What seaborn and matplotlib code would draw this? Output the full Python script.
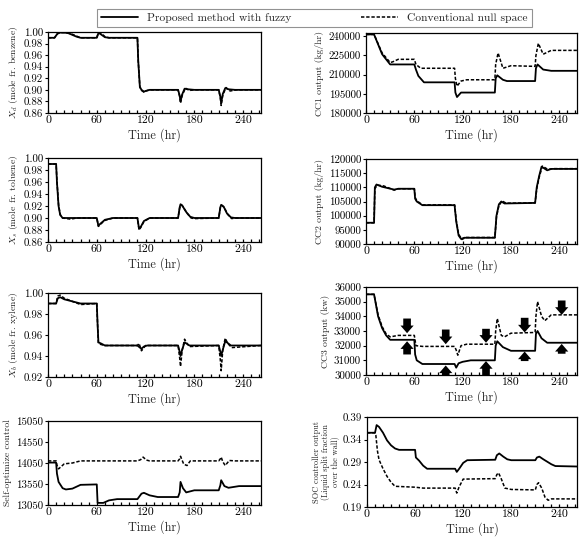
import matplotlib
matplotlib.use("Agg")
import matplotlib.pyplot as plt
import seaborn as sns
from matplotlib.lines import Line2D
from matplotlib.ticker import MultipleLocator

sns.set_theme(style="white")
plt.rcParams['font.family'] = ['cmr10', 'DejaVu Serif']
plt.rcParams['mathtext.fontset'] = 'cm'
plt.rcParams['axes.unicode_minus'] = False

# ---------------- data ----------------
# Panel: X_d benzene
t_xd_fz = [0, 8, 12, 15, 20, 25, 30, 35, 40, 60, 62, 64, 67, 70, 75, 110, 111, 113, 115, 118, 120, 125, 160, 162, 163, 165, 168, 172, 180, 210, 212, 213, 215, 218, 222, 230, 262]
xd_fz = [0.990, 0.990, 0.998, 0.999, 0.999, 0.998, 0.995, 0.992, 0.990, 0.990, 0.998, 0.997, 0.994, 0.991, 0.990, 0.990, 0.950, 0.905, 0.900, 0.897, 0.898, 0.900, 0.900, 0.890, 0.880, 0.892, 0.902, 0.901, 0.900, 0.900, 0.888, 0.877, 0.893, 0.903, 0.901, 0.900, 0.900]
t_xd_cn = [0, 8, 12, 15, 20, 25, 30, 35, 40, 60, 62, 64, 67, 70, 75, 110, 111, 113, 115, 118, 120, 125, 160, 162, 163, 165, 169, 174, 180, 210, 212, 213, 215, 219, 224, 232, 262]
xd_cn = [0.990, 0.990, 0.997, 0.999, 0.999, 0.998, 0.996, 0.993, 0.990, 0.990, 0.999, 0.998, 0.996, 0.992, 0.990, 0.990, 0.950, 0.905, 0.899, 0.896, 0.898, 0.900, 0.900, 0.888, 0.877, 0.890, 0.903, 0.899, 0.900, 0.900, 0.886, 0.873, 0.891, 0.904, 0.898, 0.900, 0.900]

# Panel: X_s toluene
t_xs_fz = [0, 10, 11, 13, 15, 18, 60, 62, 64, 70, 80, 110, 112, 114, 118, 125, 160, 162, 163, 165, 170, 175, 180, 210, 212, 213, 216, 220, 225, 230, 262]
xs_fz = [0.990, 0.990, 0.960, 0.920, 0.905, 0.900, 0.900, 0.887, 0.890, 0.897, 0.900, 0.900, 0.882, 0.885, 0.895, 0.900, 0.900, 0.918, 0.923, 0.921, 0.910, 0.902, 0.900, 0.900, 0.918, 0.922, 0.919, 0.908, 0.901, 0.900, 0.900]
t_xs_cn = [0, 10, 11, 13, 15, 18, 28, 35, 60, 62, 64, 70, 80, 110, 112, 114, 118, 125, 160, 162, 164, 166, 171, 176, 180, 210, 212, 214, 217, 221, 226, 230, 262]
xs_cn = [0.990, 0.990, 0.962, 0.922, 0.906, 0.900, 0.898, 0.900, 0.900, 0.886, 0.889, 0.896, 0.900, 0.900, 0.880, 0.884, 0.894, 0.900, 0.900, 0.917, 0.922, 0.919, 0.908, 0.900, 0.899, 0.900, 0.917, 0.921, 0.917, 0.906, 0.899, 0.900, 0.900]

# Panel: X_b xylene
t_xb_fz = [0, 10, 12, 15, 20, 30, 40, 60, 61, 62, 65, 70, 110, 113, 115, 118, 122, 160, 162, 163, 165, 168, 170, 174, 210, 212, 213, 215, 218, 220, 225, 262]
xb_fz = [0.990, 0.990, 0.995, 0.996, 0.994, 0.992, 0.990, 0.990, 0.970, 0.953, 0.952, 0.950, 0.950, 0.948, 0.947, 0.949, 0.950, 0.950, 0.944, 0.940, 0.946, 0.953, 0.952, 0.950, 0.950, 0.944, 0.940, 0.946, 0.954, 0.953, 0.950, 0.950]
t_xb_cn = [0, 10, 12, 15, 20, 30, 40, 60, 61, 62, 65, 70, 110, 112, 115, 120, 160, 162, 163, 165, 168, 170, 174, 210, 212, 213, 215, 218, 221, 226, 262]
xb_cn = [0.990, 0.990, 0.997, 0.998, 0.995, 0.992, 0.989, 0.990, 0.970, 0.952, 0.951, 0.950, 0.950, 0.952, 0.945, 0.950, 0.950, 0.938, 0.930, 0.945, 0.956, 0.953, 0.949, 0.950, 0.936, 0.926, 0.946, 0.957, 0.952, 0.948, 0.950]

# Panel: self-optimize control
t_so_fz = [0, 10, 11, 13, 18, 22, 30, 40, 60, 61, 68, 75, 85, 110, 115, 118, 125, 135, 160, 162, 163, 166, 170, 180, 210, 212, 213, 217, 222, 235, 262]
so_fz = [14060, 14060, 13800, 13600, 13450, 13420, 13440, 13530, 13540, 13100, 13100, 13160, 13190, 13190, 13320, 13340, 13280, 13240, 13240, 13350, 13600, 13450, 13350, 13400, 13400, 13520, 13640, 13500, 13460, 13500, 13500]
t_so_cn = [0, 10, 11, 13, 20, 30, 40, 110, 114, 117, 121, 125, 160, 162, 163, 167, 171, 175, 210, 212, 213, 215, 218, 223, 230, 262]
so_cn = [14100, 14100, 14000, 13910, 14030, 14050, 14100, 14100, 14130, 14190, 14120, 14100, 14100, 14150, 14210, 14020, 13990, 14100, 14100, 14150, 14190, 14080, 13990, 14110, 14100, 14100]

# Panel: CC1 output
t_c1_fz = [0, 10, 20, 30, 60, 62, 65, 72, 110, 111, 113, 118, 160, 161, 163, 170, 175, 210, 211, 213, 220, 230, 262]
c1_fz = [241500, 241500, 226000, 218000, 218000, 214000, 209000, 204000, 204000, 196000, 192500, 196000, 196000, 207000, 209500, 206000, 205000, 205000, 215000, 218000, 214000, 213000, 213000]
t_c1_cn = [0, 10, 20, 30, 33, 40, 60, 62, 68, 110, 111, 113, 118, 125, 160, 161, 164, 170, 180, 210, 211, 214, 220, 230, 262]
c1_cn = [241500, 241500, 227000, 219500, 220000, 222000, 222000, 218000, 215000, 215000, 207000, 201000, 205000, 206000, 206000, 218000, 227000, 215000, 217000, 216500, 225000, 234500, 226000, 229000, 229000]

# Panel: CC2 output
t_c2_fz = [0, 10, 11, 13, 20, 35, 40, 60, 61, 63, 70, 110, 112, 115, 118, 122, 160, 162, 165, 168, 172, 210, 212, 215, 218, 225, 230, 262]
c2_fz = [97500, 97500, 110000, 111000, 110200, 109200, 109500, 109500, 106000, 105000, 103700, 103700, 98000, 93000, 91800, 92200, 92200, 100000, 104000, 105000, 104300, 104500, 110000, 114000, 117300, 116000, 116500, 116500]
t_c2_cn = [0, 10, 11, 14, 22, 35, 40, 60, 61, 63, 70, 110, 112, 115, 119, 124, 160, 162, 165, 169, 174, 210, 212, 215, 219, 226, 232, 262]
c2_cn = [97500, 97500, 109500, 110800, 110500, 109000, 109500, 109500, 106500, 105300, 103800, 103800, 98500, 93500, 91600, 92300, 92300, 99500, 103500, 105200, 104400, 104500, 109500, 113500, 117500, 116300, 116600, 116600]

# Panel: CC3 output
t_c3_fz = [0, 10, 15, 20, 25, 30, 60, 61, 63, 70, 110, 112, 115, 120, 130, 160, 161, 163, 170, 180, 210, 211, 213, 218, 225, 262]
c3_fz = [35500, 35500, 34000, 33200, 32700, 32400, 32400, 31400, 31000, 30750, 30750, 30500, 30800, 30900, 31000, 31000, 32000, 32300, 31900, 31650, 31650, 32800, 33000, 32500, 32200, 32200]
t_c3_cn = [0, 10, 15, 20, 25, 30, 40, 60, 62, 70, 110, 112, 114, 118, 125, 160, 161, 163, 168, 172, 180, 210, 211, 213, 218, 222, 230, 262]
c3_cn = [35500, 35500, 34100, 33300, 32800, 32600, 32700, 32700, 32000, 31950, 31950, 31700, 31350, 32000, 32100, 32100, 33000, 33850, 32700, 32600, 32850, 32900, 34000, 35000, 34000, 33700, 34100, 34100]
# CC3 arrows (time, base, tip)
arr_dn_t = [51, 99, 149, 197, 243]
arr_dn_base = [33850, 33100, 33150, 33900, 35080]
arr_dn_tip = [32850, 32100, 32200, 32900, 34100]
arr_up_t = [51, 99, 149, 197, 243]
arr_up_base = [31400, 30000, 30000, 30950, 31450]
arr_up_tip = [32300, 30650, 30950, 31600, 32120]

# Panel: SOC controller output
t_sc_fz = [0, 10, 12, 15, 20, 25, 30, 35, 40, 60, 61, 65, 70, 75, 110, 112, 115, 120, 125, 160, 162, 165, 170, 175, 180, 210, 212, 215, 220, 230, 235, 262]
sc_fz = [0.355, 0.355, 0.372, 0.368, 0.355, 0.338, 0.327, 0.320, 0.317, 0.317, 0.300, 0.293, 0.282, 0.275, 0.275, 0.268, 0.275, 0.288, 0.294, 0.295, 0.305, 0.309, 0.302, 0.296, 0.294, 0.294, 0.300, 0.302, 0.296, 0.285, 0.281, 0.280]
t_sc_cn = [0, 10, 11, 13, 15, 20, 25, 30, 35, 60, 70, 110, 112, 115, 120, 160, 162, 164, 167, 172, 180, 210, 212, 214, 218, 222, 226, 230, 262]
sc_cn = [0.355, 0.355, 0.350, 0.315, 0.295, 0.275, 0.258, 0.245, 0.236, 0.234, 0.232, 0.232, 0.221, 0.235, 0.252, 0.253, 0.262, 0.266, 0.255, 0.232, 0.229, 0.228, 0.240, 0.244, 0.232, 0.212, 0.205, 0.208, 0.208]

labels_legend = ["Proposed method with fuzzy", "Conventional null space"]

# ---------------- layout ----------------
W, H = 580, 537
fig = plt.figure(figsize=(W / 100, H / 100), dpi=100)


def box(l, r, t, b):
    return [l / W, 1 - b / H, (r - l) / W, (b - t) / H]


panels = [
    dict(pos=box(48, 261, 32, 113), t=(t_xd_fz, t_xd_cn), y=(xd_fz, xd_cn),
         ylim=(0.86, 1.00), yt=[0.86, 0.88, 0.90, 0.92, 0.94, 0.96, 0.98, 1.00],
         fmt="{:.2f}", ylabel=r"$X_d$ (mole fr. benzene)", yfs=7),
    dict(pos=box(48, 261, 158, 242), t=(t_xs_fz, t_xs_cn), y=(xs_fz, xs_cn),
         ylim=(0.86, 1.00), yt=[0.86, 0.88, 0.90, 0.92, 0.94, 0.96, 0.98, 1.00],
         fmt="{:.2f}", ylabel=r"$X_s$ (mole fr. toluene)", yfs=7),
    dict(pos=box(48, 261, 293, 377), t=(t_xb_fz, t_xb_cn), y=(xb_fz, xb_cn),
         ylim=(0.92, 1.00), yt=[0.92, 0.94, 0.96, 0.98, 1.00],
         fmt="{:.2f}", ylabel=r"$X_b$ (mole fr. xylene)", yfs=7),
    dict(pos=box(48, 261, 421, 505), t=(t_so_fz, t_so_cn), y=(so_fz, so_cn),
         ylim=(13050, 15050), yt=[13050, 13550, 14050, 14550, 15050],
         fmt="{:.0f}", ylabel="Self-optimize control", yfs=7),
    dict(pos=box(366, 577, 33, 113), t=(t_c1_fz, t_c1_cn), y=(c1_fz, c1_cn),
         ylim=(180000, 242600), yt=[180000, 195000, 210000, 225000, 240000],
         fmt="{:.0f}", ylabel="CC1 output (kg/hr)", yfs=7),
    dict(pos=box(366, 577, 159, 244), t=(t_c2_fz, t_c2_cn), y=(c2_fz, c2_cn),
         ylim=(90000, 120000), yt=[90000, 95000, 100000, 105000, 110000, 115000, 120000],
         fmt="{:.0f}", ylabel="CC2 output (kg/hr)", yfs=7),
    dict(pos=box(366, 577, 287, 375), t=(t_c3_fz, t_c3_cn), y=(c3_fz, c3_cn),
         ylim=(30000, 36000), yt=[30000, 31000, 32000, 33000, 34000, 35000, 36000],
         fmt="{:.0f}", ylabel="CC3 output (kw)", yfs=7),
    dict(pos=box(367, 577, 417, 507), t=(t_sc_fz, t_sc_cn), y=(sc_fz, sc_cn),
         ylim=(0.19, 0.39), yt=[0.19, 0.24, 0.29, 0.34, 0.39],
         fmt="{:.2f}", ylabel="SOC controller output\n(Liquid split fraction\nover the wall)", yfs=6),
]

styles = [dict(linestyle="-", linewidth=1.3), dict(linestyle=(0, (2.2, 1.2)), linewidth=1.1)]

axes = []
for p in panels:
    ax = fig.add_axes(p["pos"])
    for k in range(2):
        sns.lineplot(x=p["t"][k], y=p["y"][k], ax=ax, color="black",
                     estimator=None, sort=False, **styles[k])
    ax.set_xlim(0, 262)
    ax.set_ylim(*p["ylim"])
    ax.set_xticks([0, 60, 120, 180, 240])
    ax.set_xticklabels(["0", "60", "120", "180", "240"], fontsize=8.5)
    ax.xaxis.set_minor_locator(MultipleLocator(10))
    ax.set_yticks(p["yt"])
    ax.set_yticklabels([p["fmt"].format(v) for v in p["yt"]], fontsize=7.8)
    ax.tick_params(axis="x", which="both", direction="in", length=2.5, width=0.9,
                   bottom=True, pad=2, colors="black")
    ax.tick_params(axis="y", which="major", direction="out", length=2, width=0.8,
                   left=True, pad=1.5, colors="black")
    for s in ax.spines.values():
        s.set_color("black")
        s.set_linewidth(0.9)
    ax.set_xlabel("Time (hr)", fontsize=8.8, labelpad=2)
    ax.set_ylabel(p["ylabel"], fontsize=p["yfs"], labelpad=3, linespacing=1.0)
    axes.append(ax)

# arrows on CC3 panel (thick block arrows)
ax3 = axes[6]
aprops = dict(arrowstyle="simple,head_width=9.5,head_length=5.5,tail_width=5.5",
              mutation_scale=1, color="black", lw=0, shrinkA=0, shrinkB=0)
for t, b, tip in zip(arr_dn_t, arr_dn_base, arr_dn_tip):
    ax3.annotate("", xy=(t, tip), xytext=(t, b), arrowprops=aprops, annotation_clip=False)
for t, b, tip in zip(arr_up_t, arr_up_base, arr_up_tip):
    ax3.annotate("", xy=(t, tip), xytext=(t, b), arrowprops=aprops, annotation_clip=False)

# legend
handles = [Line2D([], [], color="black", **styles[0]), Line2D([], [], color="black", **styles[1])]
leg = fig.legend(handles, labels_legend, loc="upper center", ncol=2,
                 bbox_to_anchor=(314.5 / W, 1 - 3 / H), frameon=True, fancybox=False,
                 fontsize=8.3, handlelength=3.2, columnspacing=6.0, borderpad=0.35,
                 handletextpad=0.8)
leg.get_frame().set_edgecolor("#777777")
leg.get_frame().set_linewidth(0.8)

fig.savefig("out.png", dpi=100)
